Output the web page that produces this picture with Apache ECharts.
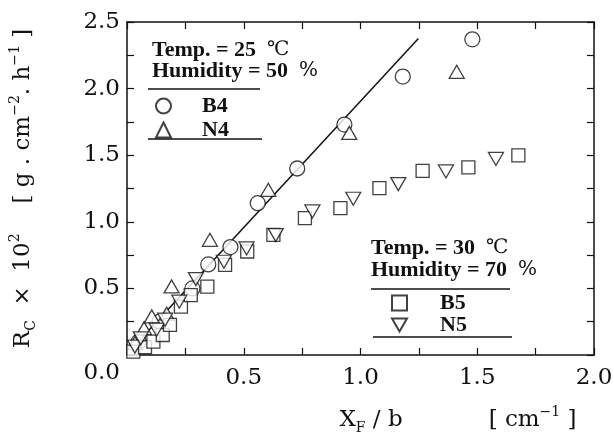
<!DOCTYPE html>
<html><head><meta charset="utf-8">
<script src="https://cdn.jsdelivr.net/npm/echarts@6/dist/echarts.min.js"></script>
<style>html,body{margin:0;padding:0;background:#fff}#c{width:614px;height:436px}</style>
</head><body><div id="c"></div>
<script>
// ---- data ----
const xTickLabels = ['', '0.5', '1.0', '1.5', '2.0'];          // shared "0.0" is drawn by the y axis
const yTickLabels = ['0.0', '0.5', '1.0', '1.5', '2.0', '2.5'];

// B4 (circles)
const b4X = [0.05, 0.14, 0.28, 0.348, 0.443, 0.56, 0.729, 0.931, 1.181, 1.479];
const b4Y = [0.10, 0.25, 0.50, 0.68, 0.81, 1.14, 1.40, 1.73, 2.09, 2.37];
// N4 (up triangles)
const n4X = [0.034, 0.073, 0.106, 0.17, 0.191, 0.355, 0.605, 0.952, 1.412];
const n4Y = [0.09, 0.20, 0.29, 0.31, 0.515, 0.865, 1.24, 1.667, 2.126];
// B5 (squares)
const b5X = [0.027, 0.077, 0.113, 0.153, 0.184, 0.231, 0.273, 0.344, 0.42, 0.515, 0.627, 0.762, 0.914, 1.081, 1.266, 1.462, 1.676];
const b5Y = [0.025, 0.058, 0.10, 0.15, 0.226, 0.363, 0.45, 0.513, 0.677, 0.777, 0.902, 1.028, 1.103, 1.253, 1.383, 1.409, 1.499];
// N5 (down triangles)
const n5X = [0.034, 0.059, 0.127, 0.163, 0.224, 0.295, 0.415, 0.512, 0.637, 0.794, 0.969, 1.162, 1.366, 1.580];
const n5Y = [0.063, 0.125, 0.19, 0.265, 0.40, 0.57, 0.70, 0.80, 0.90, 1.078, 1.173, 1.283, 1.378, 1.472];
// fitted line for B4/N4
const fitX = [0.03, 1.248];
const fitY = [0.065, 2.376];

const legend1Title = [['Temp. = 25  ', '\u2103'], ['Humidity = 50  ', '%']];
const legend2Title = [['Temp. = 30  ', '\u2103'], ['Humidity = 70  ', '%']];

// ---- chart ----
const ink = '#111';
const zip = (xs, ys) => xs.map((x, i) => [x, ys[i]]);
const chart = echarts.init(document.getElementById('c'), null, {renderer: 'canvas'});

const tickFont = {fontFamily: 'DejaVu Serif', fontSize: 23, color: ink};
const axisCommon = {
  axisLine: {show: true, onZero: false, lineStyle: {color: ink, width: 1.5}},
  axisTick: {show: true, inside: true, length: 7, lineStyle: {color: ink, width: 1.2}},
  minorTick: {show: true, splitNumber: 2, length: 7, lineStyle: {color: ink, width: 1.2}},
  splitLine: {show: false},
  minorSplitLine: {show: false}
};
const markerStyle = {color: '#fff', borderColor: ink, borderWidth: 1.3};
const downTri = 'path://M0,0 L16,0 L8,14 Z';

const legendText = {fontFamily: 'Liberation Serif', fontWeight: 'bold', fontSize: 22, color: ink, lineHeight: 20};

function titleTexts(lines, x, y0, dy) {
  return lines.map((t, i) => ({
    type: 'text', x: x, y: y0 + i * dy,
    style: {
      text: '{b|' + t[0] + '}{n|' + t[1] + '}', fill: ink, verticalAlign: 'middle', align: 'left',
      rich: {
        b: {fontFamily: 'Liberation Serif', fontWeight: 'bold', fontSize: 22, fill: ink},
        n: {fontFamily: 'DejaVu Serif', fontWeight: 'normal', fontSize: 20, fill: ink}
      }
    }
  }));
}
function hline(x1, x2, y) {
  return {type: 'line', shape: {x1: x1, y1: y, x2: x2, y2: y}, style: {stroke: ink, lineWidth: 1.6}};
}

const nameRich = {
  m: {fontFamily: 'DejaVu Serif', fontSize: 23, color: ink, lineHeight: 30},
  s: {fontFamily: 'DejaVu Serif', fontSize: 14, color: ink, lineHeight: 14, verticalAlign: 'bottom'},
  u: {fontFamily: 'DejaVu Serif', fontSize: 14, color: ink, lineHeight: 14, verticalAlign: 'top'},
  g: {width: 86},
  g2: {width: 30}
};

chart.setOption({
  backgroundColor: '#fff',
  animation: false,
  grid: {left: 127, right: 20, top: 22, bottom: 81, containLabel: false, outerBoundsMode: 'none'},
  xAxis: [
    Object.assign({
      type: 'value', min: 0, max: 2, interval: 0.5, position: 'bottom',
      axisLabel: Object.assign({margin: 12, formatter: (v) => xTickLabels[Math.round(v / 0.5)]}, tickFont),
      name: '{m|X}{s|F}{m| / b}{g|}{m|[ cm}{u|\u22121}{m| ]}',
      nameLocation: 'middle', nameGap: 50,
      nameTextStyle: {rich: nameRich, padding: [0, 0, 0, 195]}
    }, axisCommon),
    Object.assign({
      type: 'value', min: 0, max: 2, interval: 0.5, position: 'top',
      axisLabel: {show: false}
    }, axisCommon)
  ],
  yAxis: [
    Object.assign({
      type: 'value', min: 0, max: 2.5, interval: 0.5, position: 'left',
      axisLabel: Object.assign({
        margin: 7,
        formatter: (v) => {
          const i = Math.round(v / 0.5);
          return i === 0 ? '{z|' + yTickLabels[0] + '}' : yTickLabels[i];
        },
        rich: {z: {fontFamily: 'DejaVu Serif', fontSize: 23, color: ink, padding: [36, 0, 0, 0]}}
      }, tickFont),
      name: '{m|R}{s|C}{m|  \u00d7  10}{u|2}{g2|}{m|[ g . cm}{u|\u22122}{m|. h}{u|\u22121}{m| ]}',
      nameLocation: 'middle', nameGap: 89, nameRotate: 90,
      nameTextStyle: {rich: nameRich}
    }, axisCommon),
    Object.assign({
      type: 'value', min: 0, max: 2.5, interval: 0.5, position: 'right',
      axisLabel: {show: false}
    }, axisCommon)
  ],
  legend: [
    {
      data: ['B4', 'N4'], orient: 'vertical', left: 155, top: 95, padding: 0,
      itemWidth: 15, itemHeight: 15, itemGap: 2,
      textStyle: Object.assign({padding: [0, 0, 0, 26]}, legendText)
    },
    {
      data: ['B5', 'N5'], orient: 'vertical', left: 391, top: 292, padding: 0,
      itemWidth: 15, itemHeight: 15, itemGap: 0,
      textStyle: Object.assign({padding: [0, 0, 0, 28]}, legendText)
    }
  ],
  graphic: [].concat(
    titleTexts(legend1Title, 152, 50, 21),
    titleTexts(legend2Title, 371, 248, 22),
    [hline(148, 260, 89), hline(148, 262, 139), hline(371, 510, 289), hline(373, 512, 337)]
  ),
  series: [
    {
      type: 'line', name: 'fit', data: zip(fitX, fitY), symbol: 'none',
      lineStyle: {color: ink, width: 1.5}, silent: true, z: 1
    },
    {type: 'scatter', name: 'B4', data: zip(b4X, b4Y), symbol: 'circle', symbolSize: 15, itemStyle: markerStyle},
    {type: 'scatter', name: 'N4', data: zip(n4X, n4Y), symbol: 'triangle', symbolSize: [15, 13], itemStyle: markerStyle},
    {type: 'scatter', name: 'B5', data: zip(b5X, b5Y), symbol: 'rect', symbolSize: 13, itemStyle: markerStyle},
    {type: 'scatter', name: 'N5', data: zip(n5X, n5Y), symbol: downTri, symbolSize: [15, 13], itemStyle: markerStyle}
  ]
});
</script>
</body></html>
